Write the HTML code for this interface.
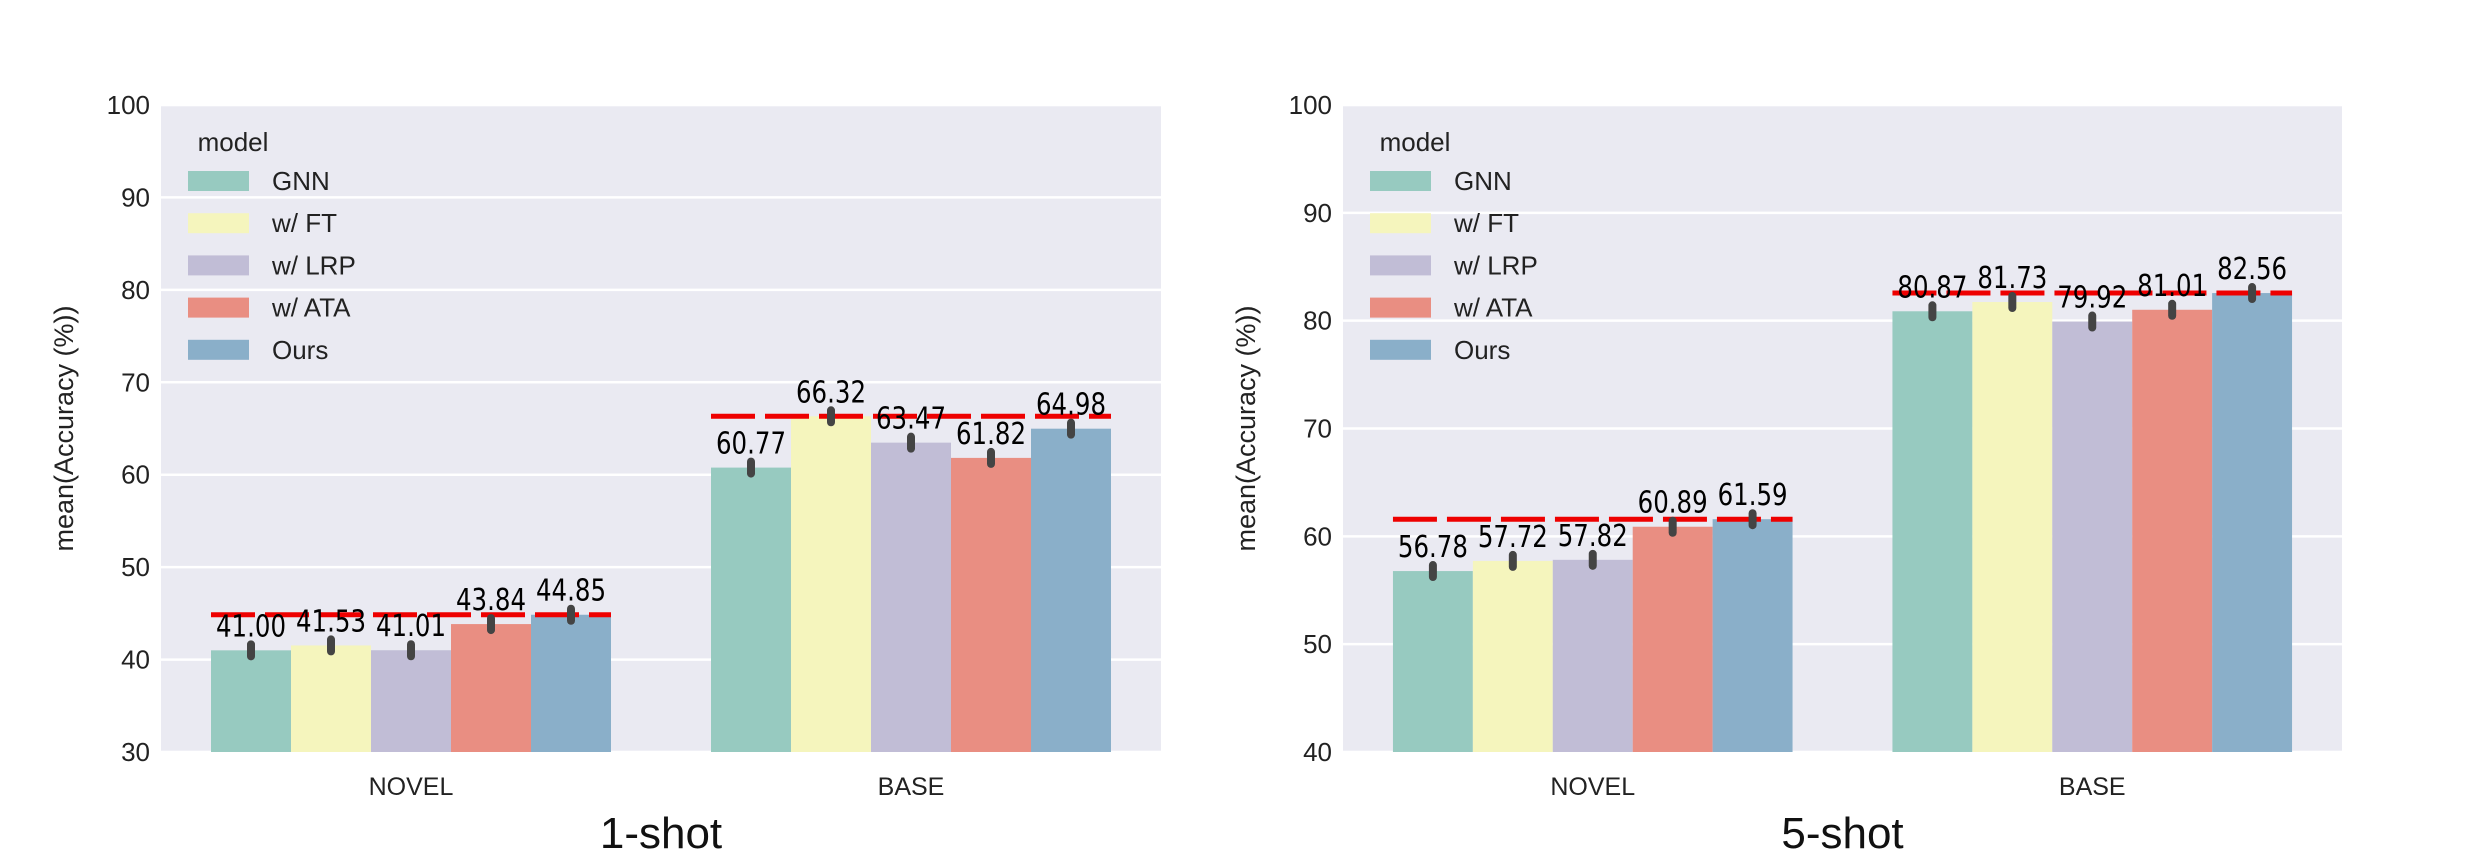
<!DOCTYPE html>
<html><head><meta charset="utf-8"><style>
html,body{margin:0;padding:0;background:#fff;}
svg{display:block;}
</style></head><body>
<svg id="chart" width="2471" height="860" xmlns="http://www.w3.org/2000/svg" font-family="'Liberation Sans', sans-serif"></svg>
<script>
const models = ["GNN","w/ FT","w/ LRP","w/ ATA","Ours"];
const categories = ["NOVEL","BASE"];
const colors = ["#97cac0","#f5f5bd","#c1bdd6","#e98e82","#8aafc9"];
const oneShotNovel = [41.00,41.53,41.01,43.84,44.85];
const oneShotBase = [60.77,66.32,63.47,61.82,64.98];
const fiveShotNovel = [56.78,57.72,57.82,60.89,61.59];
const fiveShotBase = [80.87,81.73,79.92,81.01,82.56];
const oneShotTicks = [30,40,50,60,70,80,90,100];
const fiveShotTicks = [40,50,60,70,80,90,100];
const titles = ["1-shot","5-shot"];

const NS="http://www.w3.org/2000/svg";
const svg=document.getElementById('chart');
function mk(tag,attrs,parent,text){const e=document.createElementNS(NS,tag);for(const k in attrs)e.setAttribute(k,attrs[k]);if(text!==undefined)e.textContent=text;(parent||svg).appendChild(e);return e;}

function panel(idx,left,right,ymin,ymax,ticks,series,title){
  const top=105,bottom=752;
  const g=mk('g',{});
  
  
  const y=v=>bottom-(v-ymin)/(ymax-ymin)*(bottom-top);
  const bg=mk('rect',{x:left,y:top,width:right-left,height:bottom-top,fill:'#eaeaf2'},g);
  
  
  ticks.forEach(t=>{
    const gl=mk('line',{x1:left,x2:right,y1:y(t),y2:y(t),stroke:'#fff','stroke-width':2.5},g);
    
    
    const tl=mk('text',{x:left-11,y:y(t)+9,'text-anchor':'end','font-size':26,fill:'#222'},g,String(t));
    
    
  });
  const yl=mk('text',{x:0,y:0,transform:`translate(${left-88},${(top+bottom)/2}) rotate(-90)`,'text-anchor':'middle','font-size':27,fill:'#222'},g,'mean(Accuracy (%))');
  
  
  const band=(right-left)/categories.length, gw=band*0.8, bw=gw/models.length;
  categories.forEach((c,ci)=>{
    const vals=series[ci];
    const gx=left+band*ci+band*0.1;
    vals.forEach((v,i)=>{
      const bx=gx+bw*i;
      const r=mk('rect',{x:bx,y:y(v),width:bw,height:bottom-y(v),fill:colors[i]},g);
      
      
    });
    const mx=Math.max(...vals);
    const dl=mk('line',{x1:gx,x2:gx+gw,y1:y(mx),y2:y(mx),stroke:'#ee0000','stroke-width':5,'stroke-dasharray':'44 10'},g);
    
    
    vals.forEach((v,i)=>{
      const cx=gx+bw*i+bw/2;
      const eb=mk('line',{x1:cx,x2:cx,y1:y(v)-6,y2:y(v)+6,stroke:'#444','stroke-width':8,'stroke-linecap':'round'},g);
      
      
      const lt=mk('text',{x:cx,y:y(v)-14,'text-anchor':'middle','font-size':30,fill:'#000','font-family':"'DejaVu Sans', sans-serif",textLength:70,lengthAdjust:'spacingAndGlyphs'},g,v.toFixed(2));
      
      
    });
    const xl=mk('text',{x:gx+gw/2,y:795,'text-anchor':'middle','font-size':25,fill:'#222'},g,c);
    
    
  });
  const tt=mk('text',{x:(left+right)/2,y:848,'text-anchor':'middle','font-size':44,fill:'#111'},g,title);
  
  
  const lg=mk('g',{},g);
  
  
  const lx=left+27;
  const lh=mk('text',{x:lx+45,y:151,'text-anchor':'middle','font-size':26,fill:'#222'},lg,'model');
  
  
  models.forEach((m,i)=>{
    const ry=181+i*42.2;
    const p=mk('rect',{x:lx,y:ry-10,width:61,height:20,fill:colors[i]},lg);
    
    
    const t=mk('text',{x:lx+84,y:ry+9,'font-size':26,fill:'#222'},lg,m);
    
    
  });
}
panel(0,161,1161,30,100,oneShotTicks,[oneShotNovel,oneShotBase],titles[0]);
panel(1,1343,2342,40,100,fiveShotTicks,[fiveShotNovel,fiveShotBase],titles[1]);
</script>
</body></html>
